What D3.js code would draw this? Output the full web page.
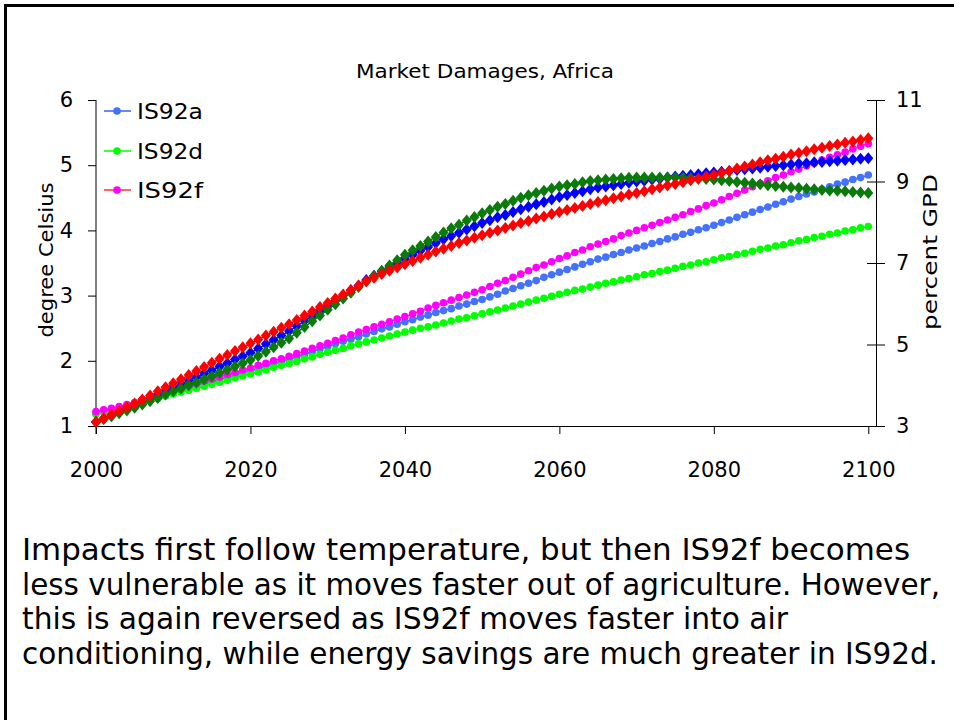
<!DOCTYPE html>
<html>
<head>
<meta charset="utf-8">
<script src="https://cdn.jsdelivr.net/npm/d3@7"></script>
<style>
  html, body { margin: 0; padding: 0; background: #fff; }
  svg { display: block; }
  text { font-family: "Comic Sans MS", "DejaVu Sans", sans-serif; fill: #000; }
</style>
</head>
<body>
<svg id="chart" width="954" height="720"></svg>
<script>
// ---------------- DATA ----------------
const years = d3.range(2000, 2101); // 2000..2100, one marker per year

const chartTitle = "Market Damages, Africa";
const leftAxisTitle = "degree Celsius";
const rightAxisTitle = "percent GPD";
const xTicks = [2000, 2020, 2040, 2060, 2080, 2100];
const leftTicks = [1, 2, 3, 4, 5, 6];
const rightTicks = [3, 5, 7, 9, 11];
const legendNames = ["IS92a", "IS92d", "IS92f"];

// Temperature (degree Celsius, left axis) - circles
const tempIS92a = [
1.20,1.23,1.26,1.28,1.31, 1.34,1.38,1.41,1.45,1.48, 1.52,1.55,1.58,1.62,1.65, 1.68,1.71,1.75,1.78,1.82,
1.85,1.88,1.92,1.95,1.99, 2.02,2.06,2.10,2.14,2.18, 2.22,2.26,2.30,2.33,2.37, 2.41,2.45,2.49,2.52,2.56,
2.60,2.63,2.67,2.70,2.74, 2.77,2.80,2.84,2.87,2.91, 2.94,2.98,3.02,3.07,3.11, 3.15,3.19,3.23,3.28,3.32,
3.36,3.40,3.44,3.48,3.52, 3.56,3.59,3.63,3.66,3.70, 3.73,3.76,3.80,3.83,3.87, 3.90,3.94,3.97,4.01,4.04,
4.08,4.12,4.16,4.20,4.24, 4.28,4.32,4.36,4.40,4.44, 4.48,4.52,4.56,4.59,4.63, 4.67,4.71,4.74,4.78,4.81,
4.85];
const tempIS92d = [
1.18,1.21,1.24,1.26,1.29, 1.32,1.35,1.39,1.42,1.46, 1.49,1.52,1.55,1.58,1.61, 1.64,1.67,1.70,1.74,1.77,
1.80,1.83,1.86,1.90,1.93, 1.96,1.99,2.03,2.06,2.10, 2.13,2.16,2.19,2.23,2.26, 2.29,2.32,2.35,2.38,2.41,
2.44,2.47,2.50,2.52,2.55, 2.58,2.61,2.64,2.66,2.69, 2.72,2.75,2.78,2.81,2.84, 2.87,2.90,2.93,2.96,2.99,
3.02,3.05,3.08,3.10,3.13, 3.16,3.19,3.21,3.24,3.26, 3.29,3.32,3.34,3.37,3.39, 3.42,3.45,3.47,3.50,3.52,
3.55,3.58,3.60,3.63,3.65, 3.68,3.71,3.73,3.76,3.78, 3.81,3.84,3.86,3.89,3.91, 3.94,3.96,3.99,4.01,4.04,
4.06];
const tempIS92f = [
1.22,1.25,1.27,1.30,1.33, 1.36,1.40,1.44,1.47,1.51, 1.55,1.58,1.62,1.65,1.69, 1.72,1.75,1.79,1.82,1.86,
1.89,1.93,1.96,2.00,2.03, 2.07,2.11,2.15,2.19,2.23, 2.27,2.31,2.35,2.40,2.44, 2.48,2.52,2.56,2.60,2.64,
2.68,2.72,2.76,2.81,2.85, 2.89,2.93,2.97,3.01,3.05, 3.09,3.14,3.19,3.23,3.28, 3.33,3.38,3.43,3.47,3.52,
3.57,3.61,3.66,3.70,3.75, 3.79,3.83,3.87,3.92,3.96, 4.00,4.04,4.08,4.12,4.16, 4.20,4.24,4.29,4.33,4.38,
4.42,4.47,4.52,4.57,4.62, 4.67,4.72,4.76,4.81,4.85, 4.90,4.94,4.99,5.03,5.08, 5.12,5.16,5.20,5.25,5.29,
5.33];

// Market damages (percent GDP, right axis) - diamonds
const dmgIS92a = [
3.10,3.18,3.26,3.34,3.42, 3.50,3.59,3.68,3.77,3.86, 3.95,4.03,4.12,4.20,4.29, 4.37,4.46,4.54,4.63,4.71,
4.80,4.90,5.01,5.11,5.22, 5.33,5.45,5.58,5.70,5.83, 5.95,6.08,6.20,6.33,6.45, 6.58,6.69,6.79,6.90,7.00,
7.10,7.20,7.30,7.39,7.49, 7.58,7.66,7.74,7.82,7.90, 7.98,8.05,8.12,8.18,8.25, 8.32,8.38,8.44,8.50,8.56,
8.62,8.67,8.72,8.76,8.81, 8.85,8.88,8.91,8.94,8.97, 9.00,9.02,9.05,9.07,9.10, 9.12,9.14,9.16,9.18,9.20,
9.22,9.24,9.26,9.28,9.30, 9.32,9.34,9.36,9.38,9.40, 9.42,9.44,9.45,9.47,9.48, 9.50,9.51,9.53,9.54,9.56,
9.57];
const dmgIS92d = [
3.10,3.17,3.24,3.31,3.38, 3.45,3.53,3.61,3.69,3.77, 3.85,3.92,4.00,4.07,4.15, 4.22,4.30,4.38,4.46,4.54,
4.62,4.72,4.82,4.93,5.04, 5.15,5.29,5.43,5.57,5.71, 5.85,5.99,6.13,6.27,6.41, 6.55,6.68,6.81,6.94,7.07,
7.20,7.31,7.42,7.53,7.64, 7.75,7.85,7.94,8.04,8.13, 8.22,8.30,8.38,8.45,8.53, 8.60,8.66,8.72,8.77,8.83,
8.88,8.91,8.94,8.98,9.01, 9.03,9.05,9.06,9.08,9.09, 9.10,9.10,9.10,9.10,9.10, 9.10,9.09,9.08,9.07,9.06,
9.05,9.03,9.01,8.99,8.97, 8.95,8.93,8.91,8.89,8.87, 8.85,8.84,8.82,8.81,8.79, 8.78,8.77,8.76,8.74,8.73,
8.72];
const dmgIS92f = [
3.10,3.19,3.28,3.37,3.46, 3.55,3.65,3.75,3.85,3.95, 4.05,4.15,4.25,4.35,4.45, 4.55,4.65,4.74,4.84,4.93,
5.03,5.12,5.22,5.31,5.41, 5.50,5.60,5.71,5.81,5.92, 6.02,6.13,6.23,6.34,6.44, 6.55,6.64,6.73,6.81,6.89,
6.97,7.05,7.13,7.20,7.28, 7.35,7.42,7.49,7.55,7.62, 7.68,7.74,7.80,7.86,7.92, 7.98,8.03,8.09,8.14,8.20,
8.25,8.30,8.35,8.40,8.45, 8.50,8.54,8.59,8.63,8.68, 8.72,8.76,8.81,8.85,8.90, 8.94,8.98,9.03,9.07,9.12,
9.16,9.21,9.26,9.32,9.37, 9.42,9.47,9.52,9.56,9.61, 9.66,9.70,9.74,9.79,9.83, 9.87,9.91,9.95,9.98,10.02,
10.06];

const captionLines = [
  "Impacts first follow temperature, but then IS92f becomes",
  "less vulnerable as it moves faster out of agriculture. However,",
  "this is again reversed as IS92f moves faster into air",
  "conditioning, while energy savings are much greater in IS92d."
];

// ---------------- LAYOUT / STYLE ----------------
const svg = d3.select("#chart");
const X0 = 96, X1 = 876, YTOP = 100, YBOT = 426;

const x = d3.scaleLinear().domain([2000, 2101]).range([X0, X1]);
const yL = d3.scaleLinear().domain([1, 6]).range([YBOT, YTOP]);
const yR = d3.scaleLinear().domain([3, 11]).range([YBOT, YTOP]);

// page border (left & top visible)
svg.append("rect").attr("x", 5.5).attr("y", 5.5).attr("width", 1200).attr("height", 1200)
  .attr("fill", "none").attr("stroke", "#000").attr("stroke-width", 3);

// title
svg.append("text").attr("x", 485).attr("y", 78).attr("text-anchor", "middle")
  .attr("font-size", 20).attr("textLength", 258).attr("lengthAdjust", "spacingAndGlyphs").text(chartTitle);

// axes
const axisStyle = g => {
  g.selectAll("path.domain").attr("stroke", "#000").attr("stroke-width", 1);
  g.selectAll(".tick line").attr("stroke", "#000").attr("stroke-width", 1);
  g.selectAll(".tick text").attr("font-family", "'Comic Sans MS','DejaVu Sans',sans-serif")
    .attr("font-size", 21).attr("fill", "#000");
};

const gx = svg.append("g").attr("transform", `translate(0,${YBOT})`)
  .call(d3.axisBottom(x).tickValues(xTicks).tickFormat(d3.format("d")).tickSize(8).tickSizeOuter(0).tickPadding(20))
  .call(axisStyle);
gx.selectAll(".tick text").attr("dy", 0).attr("y", 51);

const gl = svg.append("g").attr("transform", `translate(${X0},0)`)
  .call(d3.axisLeft(yL).tickValues(leftTicks).tickFormat(d3.format("d")).tickSize(8).tickSizeOuter(0).tickPadding(15))
  .call(axisStyle);
gl.select("path.domain").attr("d", `M0,${YTOP}V${YBOT + 8}`);

const gr = svg.append("g").attr("transform", `translate(${X1},0)`)
  .call(d3.axisRight(yR).tickValues(rightTicks).tickFormat(d3.format("d")).tickSize(9).tickSizeOuter(0).tickPadding(11))
  .call(axisStyle);
gr.selectAll(".tick line").attr("x1", -9);

// axis titles
svg.append("text").attr("transform", `translate(53,260) rotate(-90)`).attr("text-anchor", "middle")
  .attr("font-size", 19).attr("textLength", 155).attr("lengthAdjust", "spacingAndGlyphs").text(leftAxisTitle);
svg.append("text").attr("transform", `translate(937,252) rotate(-90)`).attr("text-anchor", "middle")
  .attr("font-size", 19).attr("textLength", 156).attr("lengthAdjust", "spacingAndGlyphs").text(rightAxisTitle);

// series
const circleSeries = [
  { name: legendNames[0], vals: tempIS92a, fill: "#4472FF", line: "#3A5CFF" },
  { name: legendNames[1], vals: tempIS92d, fill: "#00FF00", line: "#00FF00" },
  { name: legendNames[2], vals: tempIS92f, fill: "#FF00FF", line: "#FF3333" }
];
const diamondSeries = [
  { vals: dmgIS92a, fill: "#0000FF" },
  { vals: dmgIS92d, fill: "#0A7A0A" },
  { vals: dmgIS92f, fill: "#FF0000" }
];

const plot = svg.append("g");
circleSeries.forEach(s => {
  plot.append("path").datum(s.vals)
    .attr("fill", "none").attr("stroke", s.line).attr("stroke-width", 1.5)
    .attr("d", d3.line().x((d, i) => x(years[i])).y(d => yL(d)));
  plot.append("g").selectAll("circle").data(s.vals).join("circle")
    .attr("cx", (d, i) => x(years[i])).attr("cy", d => yL(d)).attr("r", 3.8)
    .attr("fill", s.fill);
});
const diamond = "M0,-6L5,0L0,6L-5,0Z";
diamondSeries.forEach(s => {
  plot.append("path").datum(s.vals)
    .attr("fill", "none").attr("stroke", s.fill).attr("stroke-width", 1.5)
    .attr("d", d3.line().x((d, i) => x(years[i])).y(d => yR(d)));
  plot.append("g").selectAll("path.dm").data(s.vals).join("path")
    .attr("class", "dm")
    .attr("transform", (d, i) => `translate(${x(years[i])},${yR(d)})`)
    .attr("d", diamond).attr("fill", s.fill);
});

// legend
const legY = [111, 151, 190];
circleSeries.forEach((s, i) => {
  const g = svg.append("g").attr("transform", `translate(0,${legY[i]})`);
  g.append("line").attr("x1", 104).attr("x2", 131).attr("y1", 0).attr("y2", 0)
    .attr("stroke", s.line).attr("stroke-width", 1.5);
  g.append("circle").attr("cx", 117).attr("cy", 0).attr("r", 3.8).attr("fill", s.fill);
  g.append("text").attr("x", 137).attr("y", 8).attr("font-size", 22)
    .attr("textLength", 66).attr("lengthAdjust", "spacingAndGlyphs").text(s.name);
});

// caption
const capY = [560, 594.5, 629, 663.5];
const capW = [888, 918, 766, 916];
captionLines.forEach((t, i) => {
  svg.append("text").attr("x", 22).attr("y", capY[i]).attr("font-size", 30)
    .attr("textLength", capW[i]).attr("lengthAdjust", "spacingAndGlyphs").text(t);
});
</script>
</body>
</html>
